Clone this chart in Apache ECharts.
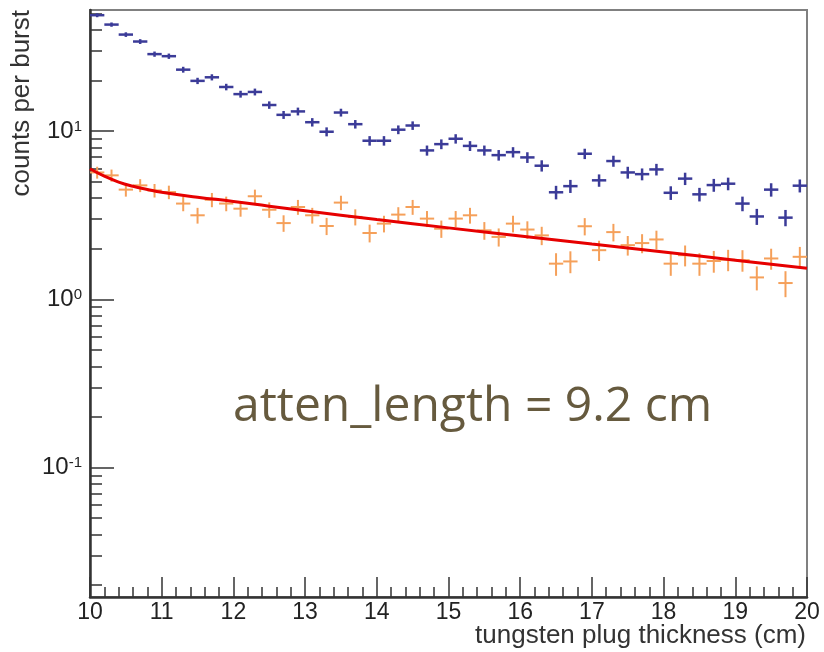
<!DOCTYPE html>
<html><head><meta charset="utf-8">
<script src="https://cdn.jsdelivr.net/npm/echarts@6/dist/echarts.min.js"></script>
<style>html,body{margin:0;padding:0;background:#fff}#c{width:824px;height:652px}</style>
</head><body><div id="c"></div>
<script>
const thickness = [10.1,10.3,10.5,10.7,10.9,11.1,11.3,11.5,11.7,11.9,12.1,12.3,12.5,12.7,12.9,13.1,13.3,13.5,13.7,13.9,14.1,14.3,14.5,14.7,14.9,15.1,15.3,15.5,15.7,15.9,16.1,16.3,16.5,16.7,16.9,17.1,17.3,17.5,17.7,17.9,18.1,18.3,18.5,18.7,18.9,19.1,19.3,19.5,19.7,19.9];
const blueCounts = [48.9,43.0,37.5,34.1,28.7,27.9,23.2,19.9,20.9,18.3,16.6,17.1,14.3,12.5,13.1,11.3,9.92,12.9,11.0,8.77,8.77,10.2,10.8,7.68,8.37,9.01,8.17,7.68,7.20,7.50,6.98,6.23,4.33,4.71,7.34,5.10,6.64,5.68,5.55,5.92,4.30,5.22,4.21,4.78,4.87,3.71,3.11,4.49,3.06,4.74];
const blueErr = [1.34,1.26,1.18,1.12,1.03,1.02,0.93,0.86,0.88,0.82,0.78,0.80,0.73,0.68,0.70,0.65,0.61,0.69,0.64,0.57,0.57,0.61,0.63,0.53,0.56,0.58,0.55,0.53,0.52,0.53,0.51,0.48,0.40,0.42,0.52,0.43,0.50,0.46,0.45,0.47,0.40,0.44,0.39,0.42,0.42,0.37,0.34,0.41,0.34,0.42];
const orangeCounts = [5.68,5.46,4.49,4.76,4.44,4.34,3.71,3.16,3.91,3.71,3.46,4.10,3.41,2.84,3.54,3.16,2.73,3.76,3.09,2.48,2.82,3.19,3.54,3.02,2.63,3.02,3.16,2.57,2.35,2.82,2.60,2.40,1.63,1.68,2.72,1.96,2.51,2.10,2.16,2.27,1.63,1.83,1.63,1.69,1.72,1.71,1.35,1.75,1.25,1.79];
const orangeErr = [0.46,0.45,0.41,0.42,0.41,0.40,0.37,0.34,0.38,0.37,0.36,0.39,0.36,0.32,0.36,0.34,0.32,0.37,0.34,0.30,0.32,0.34,0.36,0.33,0.31,0.33,0.34,0.31,0.29,0.32,0.31,0.30,0.25,0.25,0.32,0.27,0.30,0.28,0.28,0.29,0.25,0.26,0.25,0.25,0.25,0.25,0.22,0.25,0.22,0.26];
const fitX = [10,10.2,10.4,10.6,10.8,11,11.5,12,12.5,13,14,15,16,17,18,19,20];
const fitY = [5.98,5.40,4.98,4.70,4.50,4.33,4.05,3.82,3.58,3.36,2.98,2.66,2.38,2.13,1.91,1.71,1.53];
const yMajorTicks = [0.1,1,10];
const yMinorTicks = [0.02,0.03,0.04,0.05,0.06,0.07,0.08,0.09,0.2,0.3,0.4,0.5,0.6,0.7,0.8,0.9,2,3,4,5,6,7,8,9,20,30,40,50];
const xLabel = 'tungsten plug thickness (cm)';
const yLabel = 'counts per burst';
const note = 'atten_length = 9.2 cm';

const blueColor = '#3b3b98', orangeColor = '#f5a05a', fitColor = '#e60000';
const X_MIN = 10, X_MAX = 20, Y_MIN = 0.017, Y_MAX = 52.5;

function errRender(color, lw) {
  return function (params, api) {
    const x = api.value(0), y = api.value(1), e = api.value(2);
    const l = api.coord([x - 0.1, y]), r = api.coord([x + 0.1, y]);
    const t = api.coord([x, y + e]), b = api.coord([x, y - e]);
    return {type: 'group', children: [
      {type: 'line', shape: {x1: l[0], y1: l[1], x2: r[0], y2: r[1]}, style: {stroke: color, lineWidth: lw}},
      {type: 'line', shape: {x1: t[0], y1: t[1], x2: b[0], y2: b[1]}, style: {stroke: color, lineWidth: lw}}
    ]};
  };
}

const blueData = thickness.map((x, i) => [x, blueCounts[i], blueErr[i]]);
const orangeData = thickness.map((x, i) => [x, orangeCounts[i], orangeErr[i]]);
const fitData = fitX.map((x, i) => [x, fitY[i]]);

const chart = echarts.init(document.getElementById('c'), null, {renderer: 'canvas'});
const yBase = {
  type: 'log', logBase: 10, min: Y_MIN, max: Y_MAX, position: 'left', offset: 0,
  splitLine: {show: false}
};
chart.setOption({
  animation: false,
  backgroundColor: '#ffffff',
  grid: {left: 90, right: 17, top: 10, bottom: 55, show: true, borderColor: '#808080', borderWidth: 2, backgroundColor: 'transparent'},
  xAxis: {
    type: 'value', min: X_MIN, max: X_MAX, interval: 1,
    axisLine: {show: true, onZero: false, lineStyle: {color: '#333', width: 2.5}},
    axisTick: {show: true, inside: true, length: 20, lineStyle: {color: '#333', width: 1.5}},
    minorTick: {show: true, splitNumber: 5, length: 10, lineStyle: {color: '#333', width: 1.5}},
    axisLabel: {fontSize: 23, color: '#222', margin: 4, fontFamily: 'Liberation Sans'},
    splitLine: {show: false}
  },
  yAxis: [
    Object.assign({}, yBase, {
      axisLine: {show: true, lineStyle: {color: '#333', width: 2.5}},
      axisTick: {show: true, inside: true, length: 24, customValues: yMajorTicks, lineStyle: {color: '#333', width: 1.5}},
      axisLabel: {
        customValues: yMajorTicks, margin: 8, color: '#222',
        formatter: function (v) { const e = Math.round(Math.log10(v)); return '{b|10}{s|' + e + '}'; },
        rich: {b: {fontSize: 24, fontFamily: 'Liberation Sans', color: '#222'}, s: {fontSize: 15, fontFamily: 'Liberation Sans', color: '#222', verticalAlign: 'top'}}
      }
    }),
    Object.assign({}, yBase, {
      axisLine: {show: false},
      axisTick: {show: true, inside: true, length: 12, customValues: yMinorTicks, lineStyle: {color: '#333', width: 1.5}},
      axisLabel: {show: false}
    })
  ],
  graphic: [
    {type: 'text', x: 22, y: 10, rotation: Math.PI / 2, style: {text: yLabel, fontSize: 26, fontFamily: 'Liberation Sans', fill: '#333', align: 'right', verticalAlign: 'middle'}},
    {type: 'text', x: 806, y: 636, style: {text: xLabel, fontSize: 26, fontFamily: 'Liberation Sans', fill: '#333', align: 'right', verticalAlign: 'middle'}},
    {type: 'text', x: 233, y: 407, z: 10, style: {text: note, fontSize: 48, fontFamily: 'Open Sans', fill: '#665a3e', align: 'left', verticalAlign: 'middle'}}
  ],
  series: [
    {type: 'custom', name: 'all', xAxisIndex: 0, yAxisIndex: 0, data: blueData, encode: {x: 0, y: 1}, renderItem: errRender(blueColor, 2.5), clip: true, z: 3},
    {type: 'custom', name: 'sel', xAxisIndex: 0, yAxisIndex: 0, data: orangeData, encode: {x: 0, y: 1}, renderItem: errRender(orangeColor, 2), clip: true, z: 3},
    {type: 'line', name: 'fit', xAxisIndex: 0, yAxisIndex: 0, data: fitData, smooth: true, showSymbol: false, lineStyle: {color: fitColor, width: 3}, z: 4}
  ]
});
</script>
</body></html>
